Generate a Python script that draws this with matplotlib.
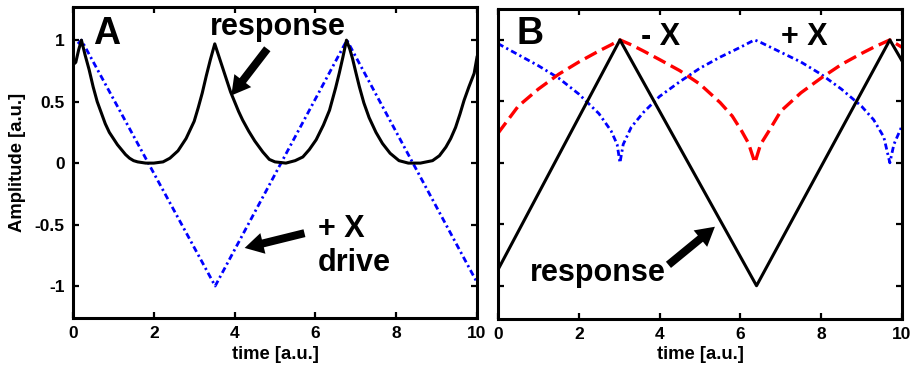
import matplotlib
matplotlib.use("Agg")
import matplotlib.pyplot as plt

plt.rcParams['font.family'] = ['Liberation Sans', 'DejaVu Sans']
plt.rcParams['font.weight'] = 'bold'
plt.rcParams['axes.unicode_minus'] = False

# ---------------- Panel A data ----------------
driveA_t = [0.12, 0.21, 3.52, 6.78, 10.0]
driveA_v = [0.97, 1.0, -1.0, 1.0, -0.97]

respA_t = [0.0, 0.07, 0.14, 0.21, 0.3, 0.4, 0.5, 0.6, 0.7, 0.8, 0.9, 1.0, 1.1, 1.2,
           1.3, 1.4, 1.5, 1.6, 1.8, 2.0, 2.23, 2.4, 2.6, 2.8, 3.0, 3.1, 3.2, 3.3,
           3.4, 3.51, 3.6, 3.7, 3.8, 3.9, 4.0, 4.1, 4.2, 4.35, 4.5, 4.7, 4.86, 5.0,
           5.27, 5.5, 5.69, 5.85, 6.02, 6.2, 6.35, 6.5, 6.59, 6.68, 6.77, 6.85, 6.92,
           7.0, 7.09, 7.2, 7.33, 7.5, 7.66, 7.85, 8.07, 8.3, 8.6, 8.9, 9.07, 9.23,
           9.35, 9.47, 9.58, 9.68, 9.8, 9.93, 10.0]
respA_v = [0.80, 0.82, 0.92, 1.0, 0.88, 0.76, 0.62, 0.50, 0.41, 0.32, 0.25, 0.20,
           0.15, 0.11, 0.07, 0.04, 0.02, 0.01, 0.0, 0.0, 0.01, 0.04, 0.10, 0.20,
           0.34, 0.45, 0.57, 0.71, 0.84, 0.97, 0.88, 0.78, 0.68, 0.58, 0.50, 0.42,
           0.35, 0.26, 0.18, 0.09, 0.03, 0.01, 0.0, 0.02, 0.05, 0.11, 0.19, 0.31,
           0.43, 0.61, 0.73, 0.86, 1.0, 0.93, 0.85, 0.74, 0.62, 0.49, 0.37, 0.25,
           0.16, 0.08, 0.02, 0.0, 0.0, 0.02, 0.06, 0.13, 0.20, 0.29, 0.40, 0.51,
           0.62, 0.73, 0.86]

# ---------------- Panel B data ----------------
respB_t = [0.0, 3.02, 6.40, 9.70, 10.0]
respB_v = [-0.87, 1.0, -1.0, 1.0, 0.83]

plusB_t = [0.0, 0.5, 1.0, 1.5, 2.0, 2.5, 2.8, 2.95, 3.02, 3.1, 3.3, 3.6, 4.0, 4.5,
           5.0, 5.5, 6.0, 6.35, 6.5, 7.0, 7.5, 8.0, 8.5, 9.0, 9.3, 9.55, 9.70, 9.8,
           10.0]
plusB_v = [0.97, 0.88, 0.79, 0.69, 0.56, 0.40, 0.26, 0.15, 0.0, 0.15, 0.29, 0.41,
           0.54, 0.66, 0.77, 0.86, 0.94, 1.0, 0.98, 0.90, 0.82, 0.72, 0.60, 0.46,
           0.35, 0.21, 0.0, 0.15, 0.30]

minusB_t = [0.0, 0.5, 1.0, 1.5, 2.0, 2.5, 2.8, 3.02, 3.3, 3.6, 4.0, 4.5, 5.0, 5.5,
            5.8, 6.03, 6.2, 6.36, 6.5, 6.69, 7.0, 7.5, 8.0, 8.5, 9.0, 9.3, 9.70, 10.0]
minusB_v = [0.24, 0.46, 0.60, 0.72, 0.82, 0.91, 0.96, 1.0, 0.96, 0.91, 0.84, 0.75,
            0.64, 0.49, 0.38, 0.26, 0.16, 0.0, 0.15, 0.25, 0.42, 0.57, 0.69, 0.80,
            0.89, 0.94, 1.0, 0.94]

xticks = [0, 2, 4, 6, 8, 10]
yticks = [-1, -0.5, 0, 0.5, 1]
yticklabels = ['-1', '-0.5', '0', '0.5', '1']

fig = plt.figure(figsize=(9.12, 3.67), dpi=100)
axA = fig.add_axes([0.080, 0.1335, 0.443, 0.8475])
axB = fig.add_axes([0.546, 0.131, 0.443, 0.844])

black_lw = 2.2
blue_ls = (0, (2.2, 1.2, 0.8, 1.2))
red_ls = (0, (4.0, 1.8))

def style(ax, ylim):
    ax.set_xlim(0, 10)
    ax.set_ylim(*ylim)
    ax.set_xticks(xticks)
    ax.set_yticks(yticks)
    for s in ax.spines.values():
        s.set_linewidth(2.2)
    ax.tick_params(direction='in', length=4, width=1.6, top=True, right=True,
                   labelsize=12.5, pad=6)
    for lab in ax.get_xticklabels() + ax.get_yticklabels():
        lab.set_fontweight('bold')
    ax.set_xlabel('time [a.u.]', fontsize=13.3, fontweight='bold', labelpad=3)

arrow_style = "simple,head_length=0.75,head_width=0.85,tail_width=0.32"

# Panel A
axA.plot(driveA_t, driveA_v, color='blue', lw=2.0, ls=blue_ls)
axA.plot(respA_t, respA_v, color='black', lw=black_lw)
style(axA, (-1.26, 1.27))
axA.set_yticklabels(yticklabels)
axA.set_ylabel('Amplitude [a.u.]', fontsize=13.3, fontweight='bold', labelpad=6)
axA.text(0.50, 0.97, 'A', fontsize=27, fontweight='bold', ha='left', va='baseline')
axA.text(5.08, 1.04, 'response', fontsize=22, fontweight='bold', ha='center', va='baseline')
axA.text(6.06, -0.60, '+ X', fontsize=22, fontweight='bold', ha='left', va='baseline')
axA.text(6.06, -0.88, 'drive', fontsize=22, fontweight='bold', ha='left', va='baseline')
axA.annotate('', xy=(3.92, 0.55), xytext=(4.81, 0.93),
             arrowprops=dict(arrowstyle=arrow_style, color='black', lw=0, shrinkA=0, shrinkB=0,
                             mutation_scale=18))
axA.annotate('', xy=(4.25, -0.69), xytext=(5.73, -0.57),
             arrowprops=dict(arrowstyle=arrow_style, color='black', lw=0, shrinkA=0, shrinkB=0,
                             mutation_scale=18))

# Panel B
axB.plot(plusB_t, plusB_v, color='blue', lw=2.0, ls=blue_ls)
axB.plot(minusB_t, minusB_v, color='red', lw=2.4, ls=red_ls)
axB.plot(respB_t, respB_v, color='black', lw=black_lw)
style(axB, (-1.27, 1.25))
axB.set_yticklabels([])
axB.text(0.45, 0.97, 'B', fontsize=27, fontweight='bold', ha='left', va='baseline')
axB.text(3.55, 0.955, '- X', fontsize=22, fontweight='bold', ha='left', va='baseline')
axB.text(7.0, 0.955, '+ X', fontsize=22, fontweight='bold', ha='left', va='baseline')
axB.text(2.47, -0.96, 'response', fontsize=22, fontweight='bold', ha='center', va='baseline')
axB.annotate('', xy=(5.37, -0.52), xytext=(4.22, -0.83),
             arrowprops=dict(arrowstyle=arrow_style, color='black', lw=0, shrinkA=0, shrinkB=0,
                             mutation_scale=18))

fig.savefig('out.png', dpi=100, facecolor='white')
